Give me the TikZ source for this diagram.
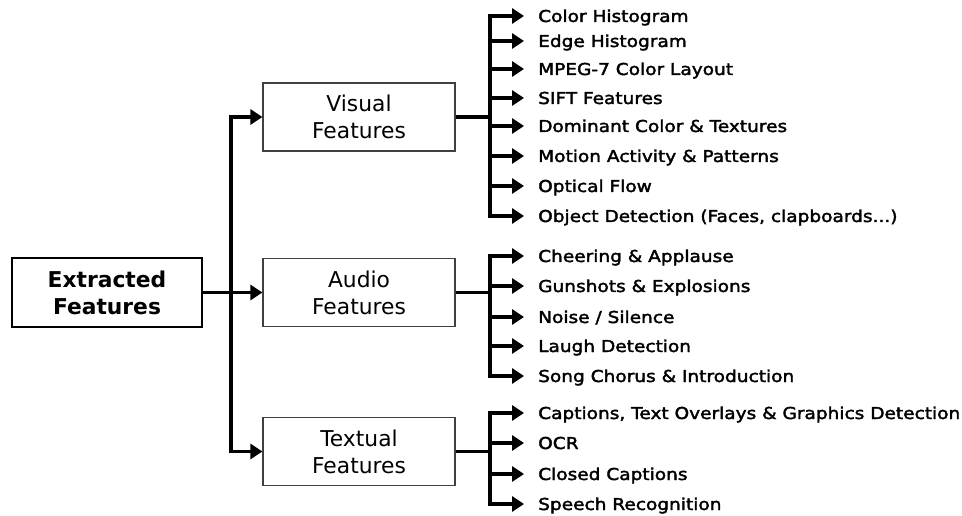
\documentclass[tikz,border=0pt]{standalone}
\usepackage{fontspec}
\setmainfont{DejaVu Sans}
\newfontfamily\itemfont[FakeStretch=1.13,FakeBold=2.2]{DejaVu Sans}
\usetikzlibrary{arrows.meta}

\begin{document}
\begin{tikzpicture}[x=1bp,y=-1bp,
  conn/.style={line width=3.2bp},
  arr/.style={conn,-{Triangle[length=12bp,width=15bp]}},
  mainbox/.style={draw,line width=2.6bp,minimum width=190bp,minimum height=69bp,
    align=center,inner sep=0pt,font=\fontsize{21.8bp}{27bp}\selectfont\bfseries},
  subbox/.style={draw=black!75,line width=1.2bp,minimum width=192bp,minimum height=68bp,
    align=center,inner sep=0pt,font=\fontsize{21.8bp}{27bp}\selectfont},
  item/.style={anchor=west,inner xsep=14bp,inner ysep=0pt,text height=12bp,text depth=0pt,
    font=\itemfont\fontsize{16.4bp}{18bp}\selectfont}
]
\useasboundingbox (0,0) rectangle (962,516);

% root and the three feature groups
\node[mainbox] (ext) at (107,292.5) {Extracted\\Features};
\node[subbox] (vis) at (359,117) {Visual\\Features};
\node[subbox] (aud) at (359,292.5) {Audio\\Features};
\node[subbox] (txt) at (359,451.5) {Textual\\Features};

% trunk from the root to the groups
\coordinate (trunk) at (231,292.5);
\draw[arr] (ext.east) -- (aud.west);
\draw[arr] (trunk) |- (vis.west);
\draw[arr] (trunk) |- (txt.west);

% bus points of each group, level with the box centres
\coordinate (vbus) at (490,117);
\coordinate (abus) at (490,292.5);
\coordinate (tbus) at (490,451.5);
\draw[conn] (vis.east) -- (vbus);
\draw[conn] (aud.east) -- (abus);
\draw[conn] (txt.east) -- (tbus);

% visual features
\node[item] (v1) at (524,16)  {Color Histogram};
\node[item] (v2) at (524,41)  {Edge Histogram};
\node[item] (v3) at (524,69)  {MPEG-7 Color Layout};
\node[item] (v4) at (524,98)  {SIFT Features};
\node[item] (v5) at (524,126) {Dominant Color \& Textures};
\node[item] (v6) at (524,156) {Motion Activity \& Patterns};
\node[item] (v7) at (524,186) {Optical Flow};
\node[item] (v8) at (524,216) {Object Detection (Faces, clapboards...)};
\foreach \n in {v1,v2,v3,v4,v5,v6,v7,v8}
  \draw[arr] (vbus) |- (\n.west);

% audio features
\node[item] (a1) at (524,256) {Cheering \& Applause};
\node[item] (a2) at (524,286) {Gunshots \& Explosions};
\node[item] (a3) at (524,317) {Noise / Silence};
\node[item] (a4) at (524,346) {Laugh Detection};
\node[item] (a5) at (524,376) {Song Chorus \& Introduction};
\foreach \n in {a1,a2,a3,a4,a5}
  \draw[arr] (abus) |- (\n.west);

% textual features
\node[item] (t1) at (524,413) {Captions, Text Overlays \& Graphics Detection};
\node[item] (t2) at (524,443) {OCR};
\node[item] (t3) at (524,474) {Closed Captions};
\node[item] (t4) at (524,504) {Speech Recognition};
\foreach \n in {t1,t2,t3,t4}
  \draw[arr] (tbus) |- (\n.west);
\end{tikzpicture}
\end{document}
